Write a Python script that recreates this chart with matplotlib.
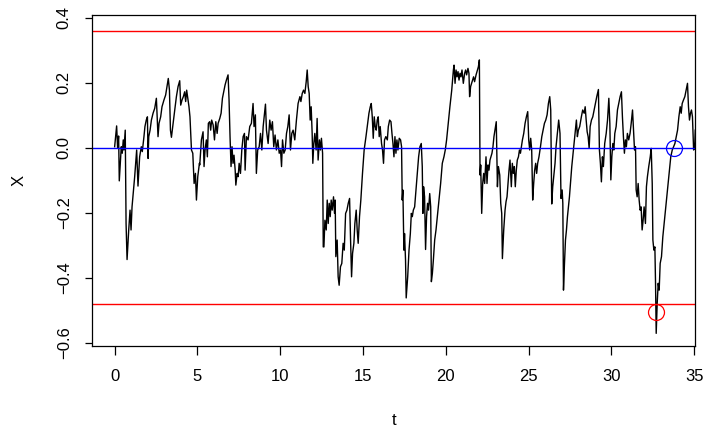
import numpy as np
import matplotlib
matplotlib.use("Agg")
import matplotlib.pyplot as plt

plt.rcParams["font.family"] = ["Liberation Sans", "DejaVu Sans"]
plt.rcParams["font.size"] = 12

path_0_5 = [
    (0.00, 0.003), (0.12, 0.067), (0.18, -0.002), (0.24, 0.036), (0.28, -0.102),
    (0.40, 0.003), (0.46, -0.017), (0.52, 0.024), (0.56, -0.007), (0.64, 0.054),
    (0.69, -0.233), (0.75, -0.344), (0.85, -0.253), (0.93, -0.192), (0.99, -0.253),
    (1.05, -0.182), (1.21, -0.089), (1.33, -0.007), (1.41, -0.118), (1.51, -0.028),
    (1.61, 0.003), (1.67, -0.012), (1.77, 0.034), (1.83, 0.065), (1.91, 0.085),
    (1.98, 0.095), (2.02, -0.033), (2.06, 0.034), (2.14, 0.054), (2.22, 0.085),
    (2.32, 0.106), (2.42, 0.121), (2.52, 0.152), (2.62, 0.034), (2.68, 0.075),
    (2.78, 0.095), (2.86, 0.126), (2.98, 0.147), (3.08, 0.162), (3.16, 0.188),
    (3.24, 0.213), (3.31, 0.177), (3.37, 0.054), (3.43, 0.032), (3.53, 0.075),
    (3.63, 0.116), (3.73, 0.157), (3.83, 0.188), (3.93, 0.206), (3.99, 0.131),
    (4.07, 0.147), (4.15, 0.157), (4.23, 0.172), (4.29, 0.142), (4.35, 0.177),
    (4.43, 0.147), (4.49, 0.126), (4.55, 0.095), (4.64, -0.007), (4.72, -0.017),
    (4.80, -0.110), (4.88, -0.079), (4.94, -0.161), (5.02, -0.089), (5.12, -0.048),
]
path_5_11 = [
    (5.14, -0.053), (5.24, 0.024), (5.34, 0.049), (5.40, -0.058), (5.46, -0.007),
    (5.54, 0.024), (5.60, -0.028), (5.66, 0.075), (5.74, 0.080), (5.80, 0.054),
    (5.86, 0.085), (5.95, 0.070), (6.03, 0.024), (6.11, 0.080), (6.19, 0.044),
    (6.25, 0.075), (6.35, 0.090), (6.43, 0.106), (6.51, 0.152), (6.59, 0.172),
    (6.67, 0.193), (6.75, 0.208), (6.85, 0.224), (6.91, 0.147), (6.97, 0.034),
    (7.03, -0.058), (7.09, 0.003), (7.15, -0.048), (7.21, -0.023), (7.28, -0.069),
    (7.32, -0.115), (7.40, -0.079), (7.46, -0.089), (7.52, -0.048), (7.60, -0.079),
    (7.68, -0.007), (7.76, 0.034), (7.84, 0.044), (7.88, -0.069), (7.96, 0.034),
    (8.06, 0.024), (8.16, 0.065), (8.26, 0.075), (8.36, 0.136), (8.42, 0.065),
    (8.50, 0.101), (8.56, -0.079), (8.64, -0.007), (8.73, 0.003), (8.81, 0.044),
    (8.89, -0.007), (8.97, 0.065), (9.05, 0.106), (9.11, 0.134), (9.17, 0.054),
    (9.27, 0.013), (9.37, 0.085), (9.45, 0.054), (9.53, 0.080), (9.61, 0.003),
    (9.69, 0.039), (9.77, -0.007), (9.86, 0.024), (9.94, -0.017), (10.02, -0.007),
    (10.08, -0.058), (10.14, 0.024), (10.22, -0.017), (10.30, -0.007), (10.38, 0.044),
    (10.46, 0.065), (10.54, 0.101), (10.62, -0.007), (10.70, 0.044), (10.78, 0.054),
]
path_11_17 = [
    (10.88, 0.024), (10.98, 0.085), (11.08, 0.136), (11.19, 0.157), (11.25, 0.142),
    (11.33, 0.167), (11.41, 0.177), (11.49, 0.167), (11.57, 0.203), (11.63, 0.239),
    (11.69, 0.188), (11.75, 0.167), (11.81, 0.085), (11.87, 0.126), (11.93, 0.044),
    (11.97, -0.048), (12.03, 0.013), (12.09, 0.044), (12.17, -0.007), (12.23, 0.090),
    (12.29, -0.038), (12.37, 0.024), (12.43, -0.007), (12.49, 0.029), (12.56, -0.017),
    (12.60, -0.305), (12.64, -0.305), (12.70, -0.223), (12.78, -0.253), (12.84, -0.161),
    (12.90, -0.233), (12.96, -0.171), (13.02, -0.212), (13.08, -0.161), (13.14, -0.192),
    (13.22, -0.151), (13.28, -0.202), (13.32, -0.161), (13.36, -0.335), (13.44, -0.284),
    (13.50, -0.397), (13.56, -0.423), (13.64, -0.366), (13.72, -0.356), (13.80, -0.294),
    (13.87, -0.315), (13.95, -0.202), (14.03, -0.192), (14.11, -0.171), (14.19, -0.156),
    (14.25, -0.284), (14.31, -0.397), (14.37, -0.325), (14.45, -0.294), (14.51, -0.233),
    (14.59, -0.192), (14.65, -0.253), (14.71, -0.294), (14.79, -0.212), (14.87, -0.161),
    (14.97, -0.079), (15.07, -0.007), (15.18, 0.034), (15.28, 0.075), (15.36, 0.106),
    (15.44, 0.126), (15.50, 0.136), (15.56, 0.095), (15.62, 0.029), (15.68, 0.095),
    (15.74, 0.065), (15.80, 0.054), (15.86, 0.085), (15.92, 0.095), (15.98, 0.034),
    (16.04, 0.065), (16.12, 0.013), (16.18, -0.007), (16.24, -0.048), (16.30, 0.024),
    (16.38, 0.034), (16.47, 0.024), (16.53, 0.065), (16.61, 0.085),
]
path_17_22 = [
    (16.69, 0.080), (16.75, 0.044), (16.81, 0.013), (16.87, -0.028), (16.93, 0.034),
    (16.99, -0.017), (17.05, 0.024), (17.11, -0.007), (17.19, 0.029), (17.27, 0.024),
    (17.33, 0.003), (17.37, -0.161), (17.41, -0.130), (17.47, -0.315), (17.51, -0.264),
    (17.57, -0.346), (17.61, -0.462), (17.70, -0.397), (17.78, -0.315), (17.86, -0.264),
    (17.92, -0.202), (17.98, -0.212), (18.04, -0.192), (18.12, -0.182), (18.20, -0.130),
    (18.28, -0.079), (18.36, -0.028), (18.44, 0.003), (18.52, 0.013), (18.58, -0.058),
    (18.62, -0.202), (18.66, -0.120), (18.72, -0.151), (18.78, -0.313), (18.84, -0.212),
    (18.90, -0.171), (18.96, -0.192), (19.03, -0.141), (19.09, -0.182), (19.13, -0.412),
    (19.19, -0.387), (19.25, -0.346), (19.33, -0.284), (19.41, -0.253), (19.49, -0.212),
    (19.59, -0.161), (19.69, -0.110), (19.79, -0.048), (19.89, -0.028), (19.97, -0.007),
    (20.05, 0.024), (20.15, 0.075), (20.25, 0.126), (20.36, 0.177), (20.46, 0.239),
    (20.50, 0.254), (20.56, 0.198), (20.62, 0.239), (20.68, 0.218), (20.74, 0.234),
    (20.80, 0.208), (20.86, 0.229), (20.92, 0.218), (20.98, 0.239), (21.06, 0.198),
    (21.14, 0.229), (21.20, 0.239), (21.26, 0.224), (21.34, 0.244), (21.40, 0.229),
    (21.44, 0.157), (21.50, 0.188), (21.56, 0.198), (21.62, 0.208), (21.68, 0.218),
    (21.74, 0.203), (21.83, 0.224), (21.91, 0.239), (21.97, 0.249), (22.03, 0.270),
    (22.07, -0.084), (22.11, -0.053), (22.17, -0.202), (22.23, -0.110), (22.29, -0.079),
    (22.35, -0.110),
]
path_22_28 = [
    (22.43, -0.028), (22.49, -0.110), (22.55, -0.053), (22.61, -0.069), (22.67, -0.038),
    (22.73, -0.028), (22.79, -0.017), (22.85, 0.003), (22.91, 0.034), (22.97, 0.054),
    (23.05, 0.080), (23.12, -0.120), (23.18, -0.058), (23.26, -0.084), (23.32, -0.171),
    (23.38, -0.202), (23.42, -0.341), (23.50, -0.253), (23.58, -0.192), (23.64, -0.166),
    (23.70, -0.151), (23.76, -0.110), (23.82, -0.069), (23.88, -0.038), (23.96, -0.120),
    (24.02, -0.048), (24.08, -0.079), (24.14, -0.058), (24.20, -0.120), (24.26, -0.069),
    (24.32, -0.038), (24.39, -0.028), (24.45, -0.007), (24.51, -0.017), (24.57, 0.003),
    (24.63, 0.024), (24.71, 0.044), (24.79, 0.075), (24.87, 0.095), (24.95, 0.111),
    (25.01, 0.024), (25.07, -0.007), (25.13, 0.029), (25.19, -0.007), (25.25, -0.161),
    (25.31, -0.110), (25.37, -0.069), (25.43, -0.048), (25.49, -0.079), (25.55, -0.048),
    (25.63, -0.028), (25.72, 0.003), (25.80, 0.034), (25.88, 0.054), (25.96, 0.075),
    (26.04, 0.085), (26.12, 0.101), (26.20, 0.136), (26.28, 0.157), (26.34, 0.116),
    (26.40, -0.173), (26.46, -0.120), (26.52, -0.089), (26.60, -0.048), (26.66, 0.003),
    (26.74, 0.044), (26.82, 0.085), (26.90, 0.044), (26.96, -0.156), (27.03, -0.130),
    (27.07, -0.171), (27.11, -0.438), (27.17, -0.356), (27.23, -0.284), (27.29, -0.253),
    (27.35, -0.212), (27.41, -0.182), (27.47, -0.151), (27.53, -0.110), (27.61, -0.058),
    (27.71, -0.007), (27.81, 0.044), (27.89, 0.085), (27.95, 0.034), (28.01, 0.054),
    (28.09, 0.065),
]
path_28_35 = [
    (28.19, 0.095), (28.27, 0.116), (28.36, 0.106), (28.42, 0.126), (28.48, 0.085),
    (28.54, 0.049), (28.60, 0.034), (28.66, -0.002), (28.72, 0.065), (28.80, 0.085),
    (28.88, 0.095), (28.96, 0.116), (29.04, 0.136), (29.12, 0.157), (29.22, 0.179),
    (29.28, -0.007), (29.34, -0.048), (29.40, -0.105), (29.46, -0.028), (29.52, -0.058),
    (29.60, 0.013), (29.69, 0.044), (29.77, 0.085), (29.85, 0.152), (29.91, 0.075),
    (29.97, -0.099), (30.03, -0.028), (30.09, 0.013), (30.15, -0.007), (30.21, 0.044),
    (30.29, 0.065), (30.37, 0.116), (30.45, 0.136), (30.53, 0.157), (30.61, 0.172),
    (30.67, 0.095), (30.73, 0.034), (30.79, -0.017), (30.85, 0.024), (30.91, 0.003),
    (30.97, 0.044), (31.05, 0.024), (31.13, 0.044), (31.20, 0.075), (31.28, 0.116),
    (31.34, 0.054), (31.40, -0.007), (31.46, 0.003), (31.50, -0.130), (31.56, -0.151),
    (31.62, -0.110), (31.68, -0.161), (31.74, -0.192), (31.80, -0.182), (31.86, -0.253),
    (31.92, -0.223), (31.98, -0.182), (32.06, -0.233), (32.12, -0.120), (32.18, -0.089),
    (32.26, -0.058), (32.35, -0.028), (32.41, -0.002), (32.47, -0.110), (32.51, -0.284),
    (32.57, -0.315), (32.63, -0.305), (32.67, -0.417), (32.71, -0.571), (32.77, -0.479),
    (32.83, -0.417), (32.89, -0.438), (32.95, -0.356), (33.03, -0.335), (33.11, -0.274),
    (33.19, -0.233), (33.27, -0.192), (33.35, -0.151), (33.43, -0.110), (33.51, -0.069),
    (33.59, -0.028), (33.68, -0.007), (33.76, 0.003), (33.84, 0.013), (33.92, 0.034),
    (34.00, 0.054), (34.08, 0.095), (34.16, 0.126), (34.22, 0.106), (34.28, 0.136),
    (34.36, 0.147), (34.44, 0.157), (34.52, 0.177), (34.60, 0.198), (34.66, 0.126),
    (34.72, 0.085), (34.78, 0.106), (34.84, 0.116), (34.90, 0.095), (34.97, -0.007),
    (35.03, -0.002), (35.07, 0.054),
]

upper_level = 0.36
lower_level = -0.482
mean_level = 0.0
lower_hit = (32.69, -0.505)
mean_hit = (33.76, 0.0)

x_ticks = [0, 5, 10, 15, 20, 25, 30, 35]
y_ticks = [-0.6, -0.4, -0.2, 0.0, 0.2, 0.4]


def main():
    path = np.array(path_0_5 + path_5_11 + path_11_17
                    + path_17_22 + path_22_28 + path_28_35)

    fig = plt.figure(figsize=(7.04, 4.30), dpi=100)
    ax = fig.add_axes([0.1311, 0.196, 0.8565, 0.769])

    ax.plot(path[:, 0], path[:, 1], color="black", lw=1.0)
    ax.axhline(upper_level, color="red", lw=1.0)
    ax.axhline(lower_level, color="red", lw=1.0)
    ax.axhline(mean_level, color="blue", lw=1.0)
    ax.plot(*lower_hit, "o", mfc="none", mec="red", ms=11.5, mew=0.9)
    ax.plot(*mean_hit, "o", mfc="none", mec="blue", ms=11.5, mew=0.9)

    ax.set_xlim(-1.35, 35.07)
    ax.set_ylim(-0.609, 0.408)
    ax.set_xticks(x_ticks)
    ax.set_yticks(y_ticks)
    ax.set_yticklabels([f"{v:.1f}".replace("-", "\u2212") for v in y_ticks])
    ax.tick_params(width=0.9, color="black")
    ax.tick_params(axis="x", length=6.5, pad=10)
    ax.tick_params(axis="y", length=5.3, pad=9.5, labelrotation=90)
    for lab in ax.get_yticklabels():
        lab.set_va("center")
    for sp in ax.spines.values():
        sp.set_linewidth(0.9)

    ax.set_xlabel("t")
    ax.set_ylabel("X")
    ax.xaxis.set_label_coords(0.5, -0.225)
    ax.xaxis.label.set_va("center")
    ax.yaxis.set_label_coords(-0.122, 0.5)
    ax.yaxis.label.set_va("center")

    fig.savefig("out.png", dpi=100)


if __name__ == "__main__":
    main()
